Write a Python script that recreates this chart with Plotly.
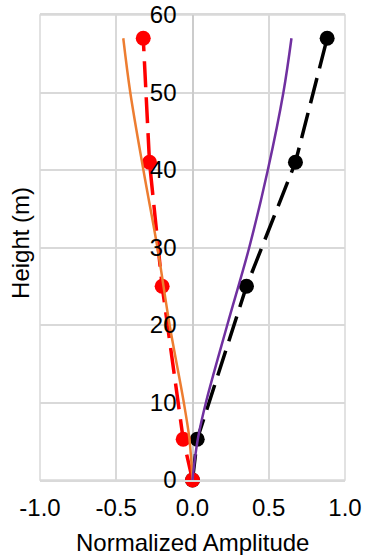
import plotly.graph_objects as go

# Measured mode shapes (markers) at sensor heights
sensor_height = [0, 5.25, 25, 41, 57]
mode1_measured = [0, -0.061, -0.199, -0.282, -0.323]
mode2_measured = [0, 0.031, 0.354, 0.675, 0.883]

# Model mode shapes (solid curves)
orange_height = [0, 2.5, 5.6, 10, 20, 30, 40, 50, 57]
orange_amp = [0, -0.008, -0.022, -0.057, -0.150, -0.230, -0.322, -0.408, -0.454]
purple_height = [0, 2.5, 5.6, 10, 20, 30, 40, 50, 57]
purple_amp = [0, 0.014, 0.038, 0.088, 0.228, 0.372, 0.494, 0.596, 0.649]

x_ticks = [-1.0, -0.5, 0.0, 0.5, 1.0]
x_tick_text = ["-1.0", "-0.5", "0.0", "0.5", "1.0"]
y_ticks = [0, 10, 20, 30, 40, 50, 60]

FONT = "Liberation Sans, Arial, sans-serif"
GRID = "#d9d9d9"
FS = 24

fig = go.Figure()
fig.add_trace(go.Scatter(
    x=mode2_measured, y=sensor_height, mode="lines+markers",
    line=dict(color="black", width=3.5, dash="26px,10px"),
    marker=dict(color="black", size=15), cliponaxis=False, showlegend=False))
fig.add_trace(go.Scatter(
    x=mode1_measured, y=sensor_height, mode="lines+markers",
    line=dict(color="#ff0000", width=3.5, dash="26px,10px"),
    marker=dict(color="#ff0000", size=15), cliponaxis=False, showlegend=False))
fig.add_trace(go.Scatter(
    x=orange_amp, y=orange_height, mode="lines",
    line=dict(color="#ed7d31", width=2.5, shape="spline", smoothing=1),
    cliponaxis=False, showlegend=False))
fig.add_trace(go.Scatter(
    x=purple_amp, y=purple_height, mode="lines",
    line=dict(color="#7030a0", width=2.5, shape="spline", smoothing=1),
    cliponaxis=False, showlegend=False))

fig.update_layout(
    width=371, height=555,
    margin=dict(l=40, r=26, t=15, b=75, autoexpand=False),
    paper_bgcolor="white", plot_bgcolor="white",
    font=dict(family=FONT, size=FS, color="black"),
    xaxis=dict(
        range=[-1, 1], tickvals=x_ticks, ticktext=x_tick_text,
        showgrid=True, gridcolor=GRID, gridwidth=1.5,
        zeroline=True, zerolinecolor="#cccccc", zerolinewidth=1.5,
        showline=True, linecolor=GRID, linewidth=1.5, mirror=True,
        ticks="", ticklabelstandoff=5, automargin=False,
    ),
    yaxis=dict(
        range=[0, 60], tickvals=y_ticks,
        anchor="free", position=0.5,
        showgrid=True, gridcolor=GRID, gridwidth=1.5,
        zeroline=False, showline=False,
        ticks="", ticklabelstandoff=16, automargin=False,
    ),
    shapes=[dict(type="rect", xref="paper", yref="paper", x0=0, x1=1, y0=0, y1=1,
                 line=dict(color=GRID, width=1.5), layer="below")],
    annotations=[
        dict(text="Height (m)", xref="paper", yref="paper", x=-0.062, y=0.51,
             xanchor="center", yanchor="middle", textangle=-90, showarrow=False,
             font=dict(family=FONT, size=FS, color="black")),
        dict(text="Normalized Amplitude", xref="paper", yref="paper", x=0.5, y=-0.135,
             xanchor="center", yanchor="middle", showarrow=False,
             font=dict(family=FONT, size=FS, color="black")),
    ],
)

fig.write_html("out.html")
